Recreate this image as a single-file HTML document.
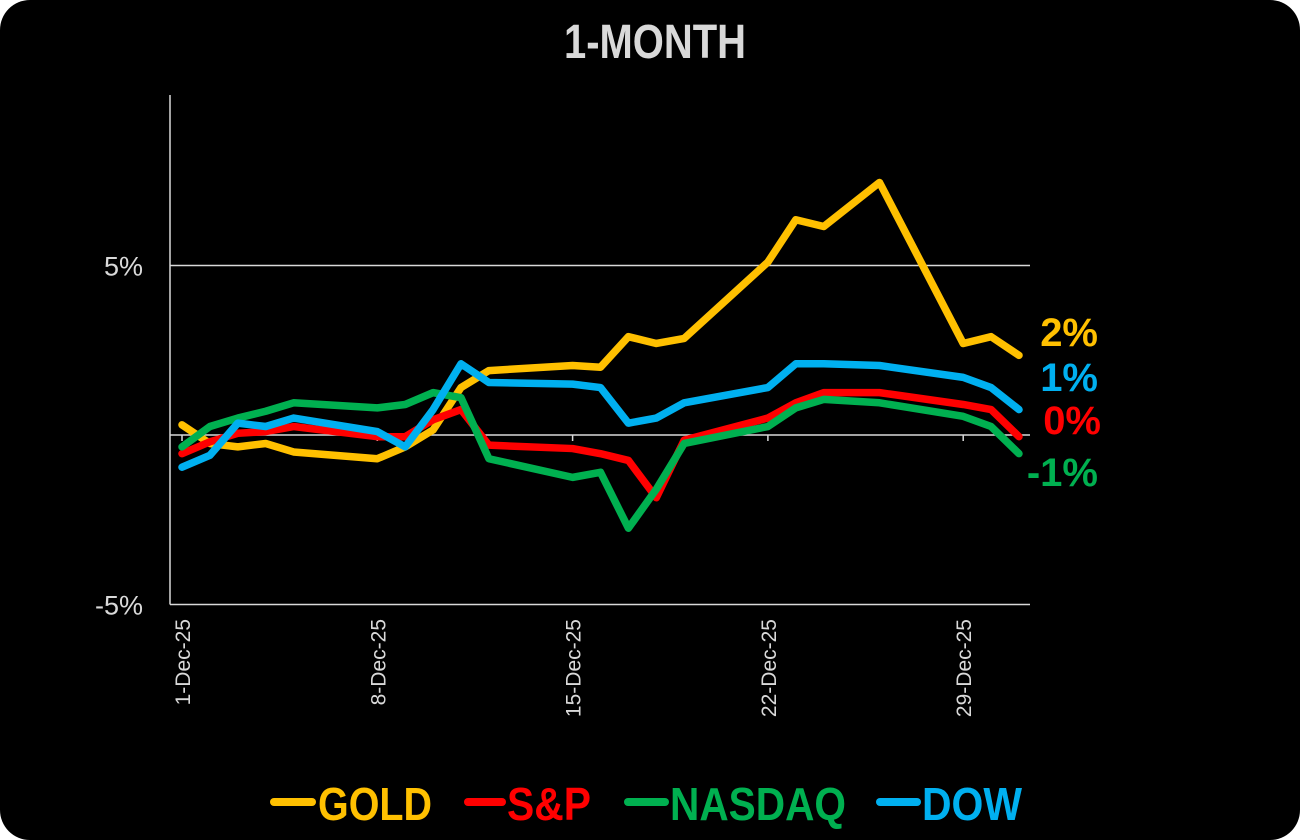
<!DOCTYPE html>
<html><head><meta charset="utf-8"><style>
html,body{margin:0;padding:0;background:#fff;}
body{width:1300px;height:840px;overflow:hidden;}
#card{position:absolute;left:0;top:0;width:1300px;height:840px;background:#000;border-radius:30px;}
svg{position:absolute;left:0;top:0;}
text{font-family:"Liberation Sans",sans-serif;}
</style></head><body>
<div id="card"></div>
<svg id="chart" width="1300" height="840">
<text x="655" y="58" text-anchor="middle" font-size="48" font-weight="bold" fill="#d9d9d9" textLength="182" lengthAdjust="spacingAndGlyphs">1-MONTH</text>
<g id="grid"></g><g id="series"></g><g id="labels"></g>
<g>
<g><line x1="274" y1="802" x2="312" y2="802" stroke="#FFC000" stroke-width="8" stroke-linecap="round"/><text x="318" y="820" font-size="46" font-weight="bold" fill="#FFC000" textLength="114" lengthAdjust="spacingAndGlyphs">GOLD</text></g>
<g><line x1="468" y1="802" x2="502" y2="802" stroke="#FF0000" stroke-width="8" stroke-linecap="round"/><text x="507" y="820" font-size="46" font-weight="bold" fill="#FF0000" textLength="84" lengthAdjust="spacingAndGlyphs">S&amp;P</text></g>
<g><line x1="628" y1="802" x2="665" y2="802" stroke="#00B050" stroke-width="8" stroke-linecap="round"/><text x="670" y="820" font-size="46" font-weight="bold" fill="#00B050" textLength="176" lengthAdjust="spacingAndGlyphs">NASDAQ</text></g>
<g><line x1="880" y1="802" x2="917" y2="802" stroke="#00B0F0" stroke-width="8" stroke-linecap="round"/><text x="922" y="820" font-size="46" font-weight="bold" fill="#00B0F0" textLength="100" lengthAdjust="spacingAndGlyphs">DOW</text></g>
</g>
</svg>
<script>
const days=[1,2,3,4,5,8,9,10,11,12,15,16,17,18,19,22,23,24,26,29,30,31];
const gold=[0.3,-0.25,-0.35,-0.25,-0.5,-0.7,-0.35,0.15,1.4,1.9,2.05,2.0,2.9,2.7,2.85,5.1,6.35,6.15,7.45,2.7,2.9,2.35];
const sp=[-0.55,-0.2,0.05,0.1,0.25,-0.05,-0.05,0.45,0.75,-0.3,-0.4,-0.55,-0.75,-1.85,-0.15,0.5,0.95,1.25,1.25,0.9,0.75,-0.05];
const nasdaq=[-0.35,0.25,0.5,0.7,0.95,0.8,0.9,1.25,1.1,-0.7,-1.25,-1.1,-2.75,-1.6,-0.25,0.25,0.8,1.05,0.95,0.55,0.25,-0.55];
const dow=[-0.95,-0.6,0.35,0.25,0.5,0.1,-0.35,0.75,2.1,1.55,1.5,1.4,0.35,0.5,0.95,1.4,2.1,2.1,2.05,1.7,1.4,0.75];
const yTicks=[5,0,-5];
const yTickLabels=["5%","","-5%"];
const xTickDays=[1,8,15,22,29];
const xTickLabels=["1-Dec-25","8-Dec-25","15-Dec-25","22-Dec-25","29-Dec-25"];
const endLabels=["2%","1%","0%","-1%"];

const NS="http://www.w3.org/2000/svg";
const X=d=>182+(d-1)*27.9;
const Y=v=>435-v*33.9;
function mk(tag,attrs,parent){const e=document.createElementNS(NS,tag);for(const k in attrs)e.setAttribute(k,attrs[k]);parent.appendChild(e);return e;}
const grid=document.getElementById('grid'),ser=document.getElementById('series'),lab=document.getElementById('labels');
yTicks.forEach((t,i)=>{
  const l=mk('line',{x1:170,x2:1030,y1:Y(t),y2:Y(t),stroke:'#d9d9d9','stroke-width':1.5},grid);
  
  
  if(yTickLabels[i]){const tx=mk('text',{x:143,y:Y(t)+10,'text-anchor':'end','font-size':27,fill:'#d9d9d9'},grid);tx.textContent=yTickLabels[i];
  
  }
});
const ax=mk('line',{x1:170,x2:170,y1:95,y2:Y(-5),stroke:'#d9d9d9','stroke-width':1.5},grid);


xTickDays.forEach((d,i)=>{
  const tk=mk('line',{x1:X(d),x2:X(d),y1:Y(0),y2:Y(0)+6,stroke:'#d9d9d9','stroke-width':1.5},grid);
  
  
  const t=mk('text',{x:0,y:0,'text-anchor':'end','font-size':21,fill:'#d9d9d9',transform:`translate(${X(d)+8},619) rotate(-90)`},grid);
  t.textContent=xTickLabels[i];
  
  
});
const series=[['gold',gold,'#FFC000'],['sp',sp,'#FF0000'],['nasdaq',nasdaq,'#00B050'],['dow',dow,'#00B0F0']];
series.forEach(([n,vals,c])=>{
  const p=mk('polyline',{points:vals.map((v,i)=>X(days[i])+','+Y(v)).join(' '),fill:'none',stroke:c,'stroke-width':7.5,'stroke-linejoin':'round','stroke-linecap':'round'},ser);
  
  
});
const endPos=[[1098,346,'#FFC000'],[1098,391,'#00B0F0'],[1101,434,'#FF0000'],[1098,486,'#00B050']];
endLabels.forEach((s,i)=>{
  const t=mk('text',{x:endPos[i][0],y:endPos[i][1],'text-anchor':'end','font-size':40,'font-weight':'bold',fill:endPos[i][2]},lab);
  t.textContent=s;
  
  
});
</script>
</body></html>
